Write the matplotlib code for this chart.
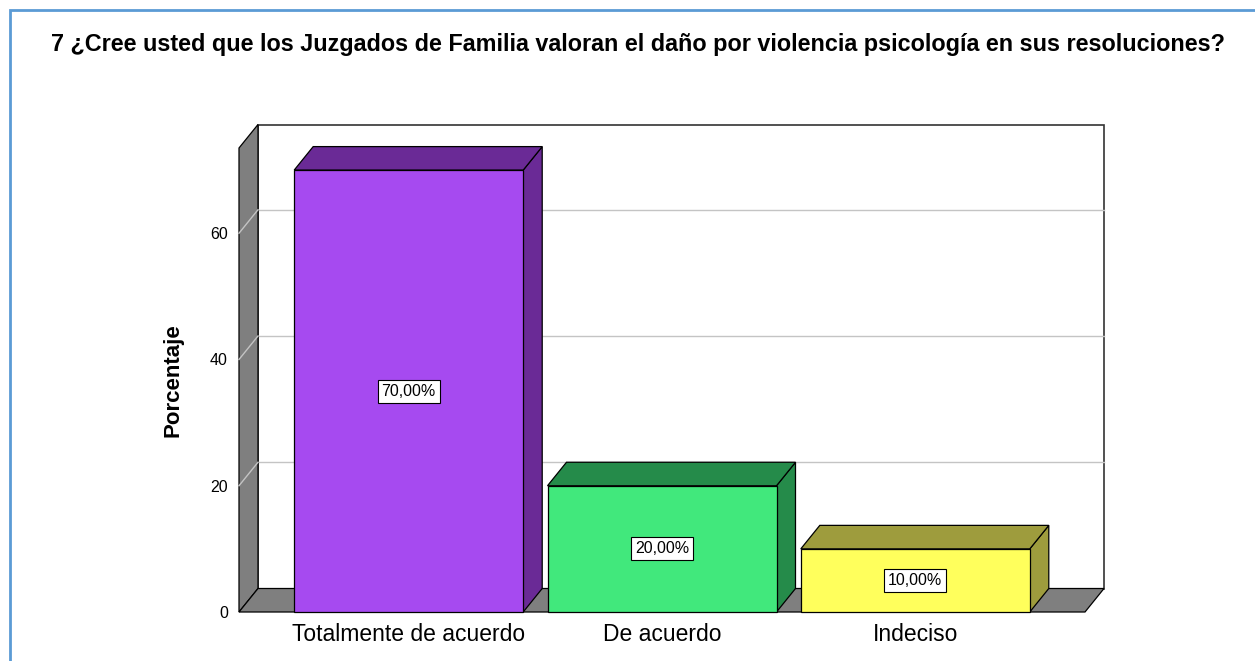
import numpy as np
import matplotlib
matplotlib.use("Agg")
import matplotlib.pyplot as plt
from matplotlib.patches import Polygon, Rectangle

plt.rcParams['font.family'] = ['Liberation Sans', 'DejaVu Sans']

# data
categories = ["Totalmente de acuerdo", "De acuerdo", "Indeciso"]
percentages = [70.0, 20.0, 10.0]
y_ticks = [0, 20, 40, 60]
title = "7 ¿Cree usted que los Juzgados de Familia valoran el daño por violencia psicología en sus resoluciones?"

# styles
front_colors = ["#a64af0", "#41e87c", "#ffff5c"]
side_colors = ["#6a2a96", "#258b4a", "#9e9c3d"]
wall_color = "#7f7f7f"
grid_color = "#c4c4c4"

W, H = 1255, 661
fig = plt.figure(figsize=(W / 100, H / 100), dpi=100)

# front plane of the 3d box
ax = fig.add_axes([239 / W, (H - 612) / H, 846 / W, 464 / H])
x0, x1 = -0.67, 2.67
ymax = 73.5
ax.set_xlim(x0, x1)
ax.set_ylim(0, ymax)
for s in ax.spines.values():
    s.set_visible(False)
ax.patch.set_visible(False)

# depth offset (front -> back) in data units
DX = 19 / (846 / (x1 - x0))
DY = 23.5 / (464 / ymax)

edge = dict(edgecolor="black", linewidth=0.9, clip_on=False)

# back wall
ax.add_patch(Rectangle((x0 + DX, DY), x1 - x0, ymax, facecolor="white",
                       edgecolor="#333333", linewidth=1.2, clip_on=False, zorder=1))
# gridlines on back and left wall
for g in y_ticks[1:]:
    ax.plot([x0 + DX, x1 + DX], [g + DY, g + DY], color=grid_color, lw=1.0, zorder=2, clip_on=False)
# left wall
ax.add_patch(Polygon([(x0, 0), (x0, ymax), (x0 + DX, ymax + DY), (x0 + DX, DY)],
                     facecolor=wall_color, zorder=3, **edge))
for g in y_ticks[1:]:
    ax.plot([x0, x0 + DX], [g, g + DY], color=grid_color, lw=1.0, zorder=3.5, clip_on=False)
# floor
ax.add_patch(Polygon([(x0, 0), (x1, 0), (x1 + DX, DY), (x0 + DX, DY)],
                     facecolor=wall_color, zorder=3, **edge))

# bars
bw = 229 / (846 / (x1 - x0))
for i, (v, fc, sc) in enumerate(zip(percentages, front_colors, side_colors)):
    l, r = i - bw / 2, i + bw / 2
    ax.add_patch(Polygon([(r, 0), (r + DX, DY), (r + DX, v + DY), (r, v)],
                         facecolor=sc, zorder=5, **edge))
    ax.add_patch(Polygon([(l, v), (r, v), (r + DX, v + DY), (l + DX, v + DY)],
                         facecolor=sc, zorder=5, **edge))
    ax.add_patch(Rectangle((l, 0), bw, v, facecolor=fc, zorder=6, **edge))
    ax.text(i, v / 2, f"{v:.2f}%".replace(".", ","), ha="center", va="center",
            fontsize=11.5, zorder=7,
            bbox=dict(boxstyle="square,pad=0.25", facecolor="white", edgecolor="black", linewidth=0.8))

ax.set_yticks(y_ticks)
ax.set_yticklabels([str(t) for t in y_ticks], fontsize=11.5)
ax.set_xticks(range(len(categories)))
ax.set_xticklabels(categories, fontsize=16.5)
ax.tick_params(axis="both", length=0)
ax.tick_params(axis="y", pad=8)
ax.tick_params(axis="x", pad=8)
ax.set_ylabel("Porcentaje", fontsize=16, fontweight="bold")
ax.yaxis.set_label_coords(-0.066, 0.5)

fig.text(638 / W, 1 - 44 / H, title, ha="center", va="center", fontsize=16.8, fontweight="bold")

# blue frame
fig.patches.append(Rectangle((10 / W, -0.1), 1.2, 1.1 - 10 / H, transform=fig.transFigure,
                             facecolor="none", edgecolor="#5b9bd5", linewidth=2))

fig.savefig("out.png", dpi=100)
